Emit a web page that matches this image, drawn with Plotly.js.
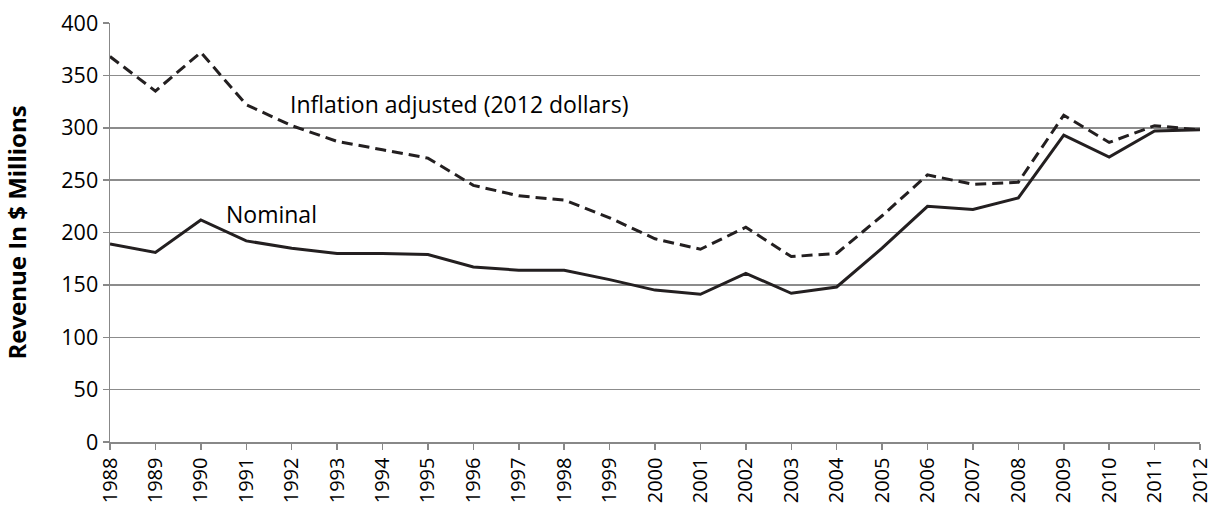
<!DOCTYPE html>
<html>
<head>
<meta charset="utf-8">
<script src="https://cdn.plot.ly/plotly-3.0.1.min.js"></script>
<style>html,body{margin:0;padding:0;background:#fff;}#chart{width:1214px;height:518px;}</style>
</head>
<body>
<div id="chart"></div>
<script>
const years = [1988,1989,1990,1991,1992,1993,1994,1995,1996,1997,1998,1999,2000,2001,2002,2003,2004,2005,2006,2007,2008,2009,2010,2011,2012];
const inflationAdjusted = [368,335,372,322,302,287,279,271,245,235,231,214,194,184,205,177,180,216,255,246,248,312,286,302,298];
const nominal = [189,181,212,192,185,180,180,179,167,164,164,155,145,141,161,142,148,185,225,222,233,293,272,297,298];
const yTicks = [0,50,100,150,200,250,300,350,400];
const fontFam = "Open Sans, Noto Sans, Liberation Sans, sans-serif";

const traces = [
  {x: years, y: inflationAdjusted, type: 'scatter', mode: 'lines', name: 'Inflation adjusted (2012 dollars)',
   line: {color: '#231f20', width: 3, dash: '11px,6px'}},
  {x: years, y: nominal, type: 'scatter', mode: 'lines', name: 'Nominal',
   line: {color: '#231f20', width: 3}}
];

const layout = {
  width: 1214, height: 518,
  margin: {l: 110, r: 14, t: 23, b: 76},
  paper_bgcolor: '#fff', plot_bgcolor: '#fff',
  showlegend: false,
  font: {family: fontFam, size: 21, color: '#000'},
  xaxis: {
    range: [1988, 2012], tickmode: 'array', tickvals: years, ticktext: years.map(String),
    tickangle: -90, ticks: 'outside', ticklen: 6, tickcolor: '#888', tickwidth: 1.5,
    showgrid: false, showline: true, linecolor: '#888', linewidth: 1.5, zeroline: false,
    ticklabeloverflow: 'allow',
    tickfont: {size: 20, family: fontFam}
  },
  yaxis: {
    range: [0, 400], tickmode: 'array', tickvals: yTicks,
    ticks: 'outside', ticklen: 6, tickcolor: '#888', tickwidth: 1.5,
    showgrid: true, gridcolor: '#8c8c8c', gridwidth: 1.5,
    showline: true, linecolor: '#888', linewidth: 1.5, zeroline: false,
    tickfont: {size: 21.5, family: fontFam},
    title: {text: '<b>Revenue In $ Millions</b>', font: {size: 24, family: fontFam}, standoff: 28}
  },
  annotations: [
    {x: 1991.92, y: 323, xref: 'x', yref: 'y', text: 'Inflation adjusted (2012 dollars)', showarrow: false,
     xanchor: 'left', yanchor: 'middle', font: {size: 23, family: fontFam, color: '#000'}},
    {x: 1990.5, y: 218, xref: 'x', yref: 'y', text: 'Nominal', showarrow: false,
     xanchor: 'left', yanchor: 'middle', font: {size: 23, family: fontFam, color: '#000'}}
  ]
};

Plotly.newPlot('chart', traces, layout, {displayModeBar: false, staticPlot: true});
</script>
</body>
</html>
